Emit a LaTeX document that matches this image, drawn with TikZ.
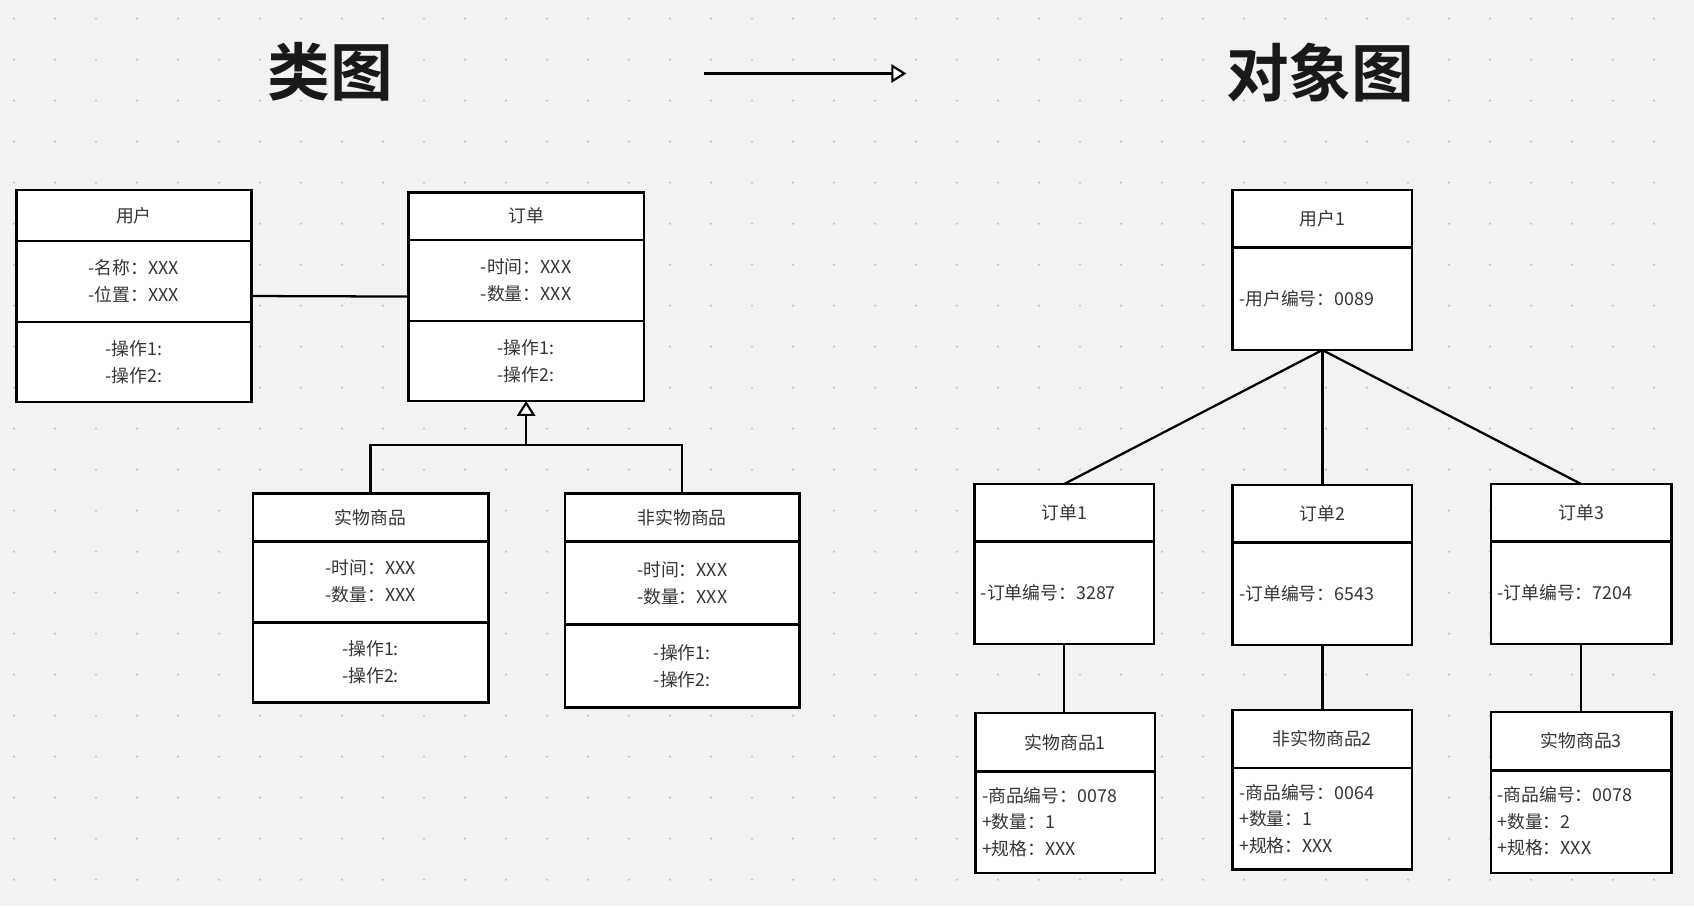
\documentclass[tikz,border=0pt]{standalone}
\usepackage{fontspec}
\setmainfont{Noto Sans CJK SC}
\newfontfamily\titlefont{Noto Sans CJK SC Bold}
\usetikzlibrary{arrows.meta,fit}
\definecolor{bgc}{HTML}{F2F2F4}
\definecolor{dotc}{HTML}{C2C2C6}
\definecolor{txtc}{HTML}{353535}
\tikzset{
  comp/.style={draw=black, line width=2.4pt, fill=white, anchor=north west,
    inner sep=0pt, outer sep=0pt, text=txtc, align=center,
    font=\fontsize{16.5}{25}\selectfont},
  ocomp/.style={comp, align=left, inner xsep=6pt, text width=#1-12pt},
  conn/.style={draw=black, line width=2.1pt},
  hollow/.style={-{Triangle[fill=white, length=14pt, width=17pt, line width=2pt]}},
  titletext/.style={font=\fontsize{58}{60}\selectfont\titlefont, text=black!90}
}
\begin{document}
\begin{tikzpicture}[x=1pt,y=-1pt]
\useasboundingbox (0,0) rectangle (1568,839);
\fill[bgc] (0,0) rectangle (1568,839);
\foreach \i in {0,...,41}{
  \foreach \j in {0,...,22}{
    \fill[dotc] (12.96+37.95*\i, 17.3+37.95*\j) circle (1.2pt);
  }
}
% titles
\node[titletext] (t1) at (306,66) {类图};
\node[titletext] (t2) at (1222,67) {对象图};
\coordinate (a1) at (652,68);
\coordinate (a2) at (839,68);
\draw[conn, hollow] (a1) -- (a2);

% ---------- class diagram ----------
\node[comp, minimum width=218pt, minimum height=47pt] (uH) at (15,176) {用户};
\node[comp, minimum width=218pt, minimum height=75pt] (uA) at (15,223) {-名称：XXX\\-位置：XXX};
\node[comp, minimum width=218pt, minimum height=74pt] (uO) at (15,298) {-操作1:\\-操作2:};

\node[comp, minimum width=218pt, minimum height=44pt] (oH) at (378,178) {订单};
\node[comp, minimum width=218pt, minimum height=75pt] (oA) at (378,222) {-时间：XXX\\-数量：XXX};
\node[comp, minimum width=218pt, minimum height=74pt] (oO) at (378,297) {-操作1:\\-操作2:};

\node[comp, minimum width=218pt, minimum height=44pt] (pH) at (234,457) {实物商品};
\node[comp, minimum width=218pt, minimum height=75pt] (pA) at (234,501) {-时间：XXX\\-数量：XXX};
\node[comp, minimum width=218pt, minimum height=74pt] (pO) at (234,576) {-操作1:\\-操作2:};

\node[comp, minimum width=217pt, minimum height=44pt] (nH) at (523,457) {非实物商品};
\node[comp, minimum width=217pt, minimum height=77pt] (nA) at (523,501) {-时间：XXX\\-数量：XXX};
\node[comp, minimum width=217pt, minimum height=77pt] (nO) at (523,578) {-操作1:\\-操作2:};

\node[fit=(uH)(uO), inner sep=0pt, outer sep=0pt] (user) {};
\node[fit=(oH)(oO), inner sep=0pt, outer sep=0pt] (order) {};
\draw[conn] (user.east) -- (order.west);

\coordinate (j) at (487,412);
\draw[conn] (pH.north) |- (j) -| (nH.north);
\draw[conn, hollow] (j) -- (oO.south);

% ---------- object diagram ----------
\node[comp, minimum width=166pt, minimum height=53pt] (u1H) at (1141,176) {用户1};
\node[ocomp=166pt, minimum width=166pt, minimum height=95pt] (u1A) at (1141,229) {-用户编号：0089};

\node[comp, minimum width=166pt, minimum height=53pt] (o1H) at (902,448) {订单1};
\node[ocomp=166pt, minimum width=166pt, minimum height=95pt] (o1A) at (902,501) {-订单编号：3287};
\node[comp, minimum width=166pt, minimum height=53pt] (o2H) at (1141,449) {订单2};
\node[ocomp=166pt, minimum width=166pt, minimum height=95pt] (o2A) at (1141,502) {-订单编号：6543};
\node[comp, minimum width=167pt, minimum height=53pt] (o3H) at (1380,448) {订单3};
\node[ocomp=167pt, minimum width=167pt, minimum height=95pt] (o3A) at (1380,501) {-订单编号：7204};

\node[comp, minimum width=166pt, minimum height=54pt] (p1H) at (903,660) {实物商品1};
\node[ocomp=166pt, minimum width=166pt, minimum height=94pt, font=\fontsize{16.5}{24.5}\selectfont] (p1A) at (903,714) {-商品编号：0078\\+数量：1\\+规格：XXX};
\node[comp, minimum width=166pt, minimum height=54pt] (n2H) at (1141,657) {非实物商品2};
\node[ocomp=166pt, minimum width=166pt, minimum height=94pt, font=\fontsize{16.5}{24.5}\selectfont] (n2A) at (1141,711) {-商品编号：0064\\+数量：1\\+规格：XXX};
\node[comp, minimum width=167pt, minimum height=54pt] (p3H) at (1380,659) {实物商品3};
\node[ocomp=167pt, minimum width=167pt, minimum height=95pt, font=\fontsize{16.5}{24.5}\selectfont] (p3A) at (1380,713) {-商品编号：0078\\+数量：2\\+规格：XXX};

\draw[conn] (u1A.south) -- (o1H.north);
\draw[conn] (u1A.south) -- (o2H.north);
\draw[conn] (u1A.south) -- (o3H.north);
\draw[conn] (o1A.south) -- (o1A.south |- p1H.north);
\draw[conn] (o2A.south) -- (n2H.north);
\draw[conn] (o3A.south) -- (p3H.north);
\end{tikzpicture}
\end{document}
